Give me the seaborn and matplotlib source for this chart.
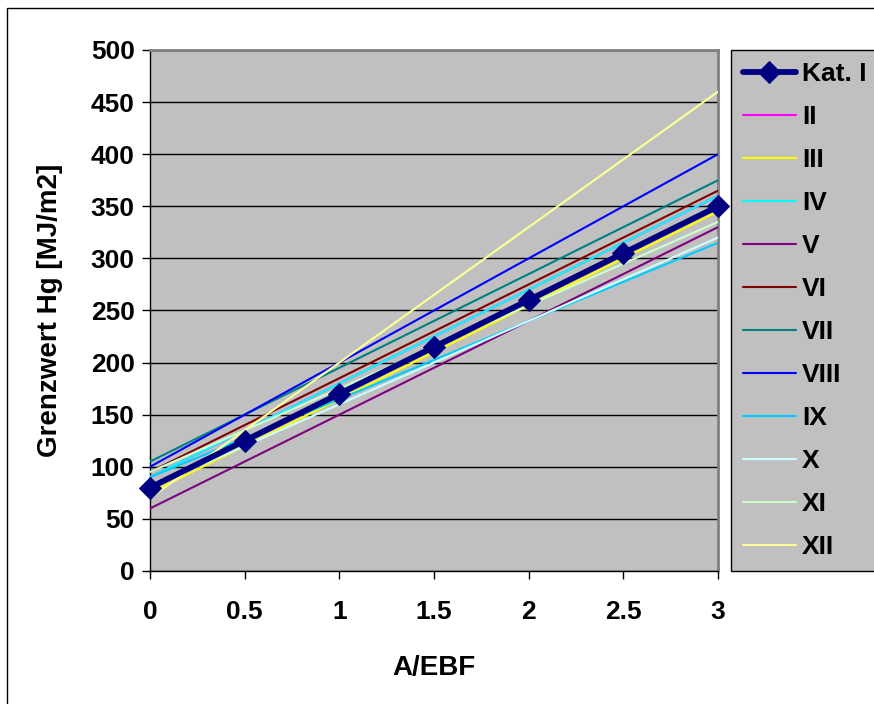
import matplotlib
matplotlib.use("Agg")
import matplotlib.pyplot as plt
from matplotlib.patches import Rectangle
import seaborn as sns
import pandas as pd

x_vals = [0, 0.5, 1, 1.5, 2, 2.5, 3]
kat_I = [80, 125, 170, 215, 260, 305, 350]
ser_II = [90, 135, 180, 225, 270, 315, 360]
ser_III = [75, 120, 165, 210, 255, 300, 345]
ser_IV = [90, 135, 180, 225, 270, 315, 360]
ser_V = [60, 105, 150, 195, 240, 285, 330]
ser_VI = [95, 140, 185, 230, 275, 320, 365]
ser_VII = [105, 150, 195, 240, 285, 330, 375]
ser_VIII = [100, 150, 200, 250, 300, 350, 400]
ser_IX = [90, 127.5, 165, 202.5, 240, 277.5, 315]
ser_X = [80, 120, 160, 200, 240, 280, 320]
ser_XI = [95, 135, 175, 215, 255, 295, 335]
ser_XII = [70, 135, 200, 265, 330, 395, 460]

labels = ["Kat. I", "II", "III", "IV", "V", "VI", "VII", "VIII", "IX", "X", "XI", "XII"]
series = [kat_I, ser_II, ser_III, ser_IV, ser_V, ser_VI, ser_VII, ser_VIII,
          ser_IX, ser_X, ser_XI, ser_XII]
colors = ["#000080", "#FF00FF", "#FFFF00", "#00FFFF", "#800080", "#800000",
          "#008080", "#0000FF", "#00CCFF", "#CCFFFF", "#CCFFCC", "#FFFF99"]

rows = []
for lab, vals in zip(labels, series):
    for xv, yv in zip(x_vals, vals):
        rows.append({"A/EBF": xv, "Hg": yv, "Kat": lab})
df = pd.DataFrame(rows)

sns.set_theme(style="white")
plt.rcParams["font.family"] = ["Liberation Sans", "DejaVu Sans"]
plt.rcParams["font.weight"] = "bold"
for k in ["text.color", "axes.labelcolor", "xtick.color", "ytick.color"]:
    plt.rcParams[k] = "black"

fig = plt.figure(figsize=(8.74, 7.04), dpi=100)
ax = fig.add_axes([150/874, 1-571/704, (718-150)/874, (571-50)/704])
ax.set_facecolor("#C0C0C0")

for i, (lab, col) in enumerate(zip(labels, colors)):
    sub = df[df["Kat"] == lab]
    if i == 0:
        sns.lineplot(data=sub, x="A/EBF", y="Hg", color=col, linewidth=4.2,
                     marker="D", markersize=11, markeredgecolor=col,
                     label=lab, ax=ax, zorder=10, clip_on=False)
    else:
        sns.lineplot(data=sub, x="A/EBF", y="Hg", color=col, linewidth=1.5,
                     label=lab, ax=ax, zorder=3 + i * 0.01)

ax.set_xlim(0, 3)
ax.set_ylim(0, 500)
ax.set_xticks(x_vals)
ax.set_xticklabels(["0", "0.5", "1", "1.5", "2", "2.5", "3"])
ax.set_yticks(range(0, 501, 50))
ax.yaxis.grid(True, color="black", linewidth=1.0)
ax.set_axisbelow(True)
ax.tick_params(axis="both", labelsize=19, direction="out", length=6, width=1,
               color="black", bottom=True, left=True)
ax.tick_params(axis="x", pad=15)
ax.tick_params(axis="y", pad=5)
for t in ax.get_xticklabels() + ax.get_yticklabels():
    t.set_fontweight("bold")

for s in ["top", "right"]:
    ax.spines[s].set_color("#808080")
    ax.spines[s].set_linewidth(2)
for s in ["bottom", "left"]:
    ax.spines[s].set_color("black")
    ax.spines[s].set_linewidth(1)

ax.set_xlabel("A/EBF", fontsize=20, fontweight="bold", labelpad=22)
ax.set_ylabel("Grenzwert Hg [MJ/m2]", fontsize=20, fontweight="bold", labelpad=20)

leg = ax.legend(loc="upper left", bbox_to_anchor=(731/874, 1-50/704),
                bbox_transform=fig.transFigure, frameon=True, fancybox=False,
                fontsize=19, labelspacing=0.72, handlelength=2.0,
                handletextpad=0.25, borderpad=0.45, borderaxespad=0)
leg.get_frame().set_facecolor("#C0C0C0")
leg.get_frame().set_edgecolor("black")
leg.get_frame().set_linewidth(1)
leg.get_frame().set_alpha(1)
for t in leg.get_texts():
    t.set_fontweight("bold")
    t.set_color("black")

fig.patches.append(Rectangle((7/874, -0.1), 1.2, 1.1 - 8/704, fill=False,
                             edgecolor="black", linewidth=1,
                             transform=fig.transFigure, figure=fig))

fig.savefig("out.png", dpi=100)
